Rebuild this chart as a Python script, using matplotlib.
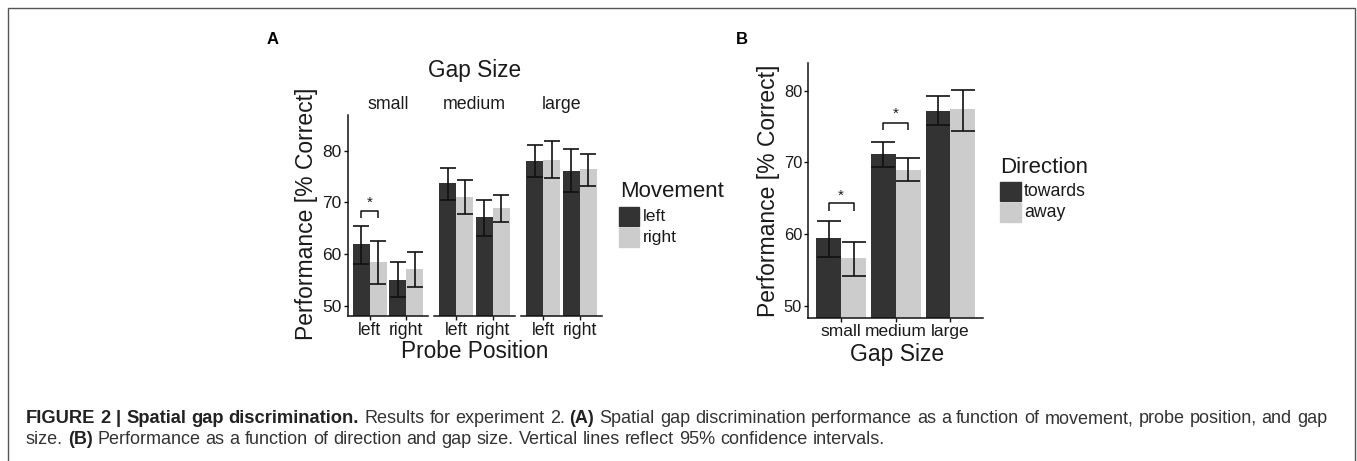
import matplotlib
matplotlib.use("Agg")
import matplotlib.pyplot as plt
from matplotlib.patches import Rectangle
import numpy as np

plt.rcParams['font.family'] = ['Liberation Sans', 'DejaVu Sans']

# ---------------- data ----------------
gap_sizes = ["small", "medium", "large"]
probe_positions = ["left", "right"]
movements = ["left", "right"]
# Panel A: [gap][probe] for each movement
a_mean_left = [[61.9, 55.0], [73.8, 67.2], [78.0, 76.1]]
a_lo_left = [[58.1, 51.7], [70.5, 63.6], [75.0, 72.1]]
a_hi_left = [[65.5, 58.4], [76.6, 70.5], [81.1, 80.3]]
a_mean_right = [[58.45, 57.1], [71.1, 69.0], [78.2, 76.5]]
a_lo_right = [[54.2, 53.6], [67.8, 66.3], [74.7, 73.2]]
a_hi_right = [[62.6, 60.4], [74.3, 71.5], [81.9, 79.4]]

# Panel B
directions = ["towards", "away"]
b_mean_towards = [59.5, 71.2, 77.2]
b_lo_towards = [56.8, 69.4, 75.2]
b_hi_towards = [61.9, 72.9, 79.2]
b_mean_away = [56.7, 69.0, 77.4]
b_lo_away = [54.2, 67.4, 74.4]
b_hi_away = [59.0, 70.6, 80.1]

y_ticks = [50, 60, 70, 80]

# caption: (text, style) with style 'head' (large bold), 'bold', 'normal'
caption_line1 = [("FIGURE 2 | Spatial gap discrimination.", "head"),
                 ("Results for experiment 2.", "normal"),
                 ("(A)", "bold"),
                 ("Spatial gap discrimination performance as a function of movement, probe position, and gap", "normal")]
caption_line2 = [("size.", "normal"),
                 ("(B)", "bold"),
                 ("Performance as a function of direction and gap size. Vertical lines reflect 95% confidence intervals.", "normal")]

DARK = "#333333"
LIGHT = "#cccccc"
TXT = "#1a1a1a"

W, H = 1357, 461
fig = plt.figure(figsize=(W / 100, H / 100), dpi=100)


def add_ax(x0, y0, x1, y1):
    return fig.add_axes([x0 / W, 1 - y1 / H, (x1 - x0) / W, (y1 - y0) / H])


def style_ax(ax, show_y):
    for s in ["top", "right"]:
        ax.spines[s].set_visible(False)
    ax.spines["bottom"].set_linewidth(1.1)
    ax.spines["bottom"].set_color("#111111")
    if show_y:
        ax.spines["left"].set_linewidth(1.1)
        ax.spines["left"].set_color("#111111")
        ax.tick_params(axis="y", length=3, width=1, colors="#111111",
                       labelsize=12.5, labelcolor=TXT, pad=1.5)
    else:
        ax.spines["left"].set_visible(False)
        ax.tick_params(axis="y", left=False, labelleft=False)
    ax.tick_params(axis="x", length=3, width=1, colors="#111111",
                   labelsize=12.7, labelcolor=TXT, pad=1.5)
    ax.patch.set_alpha(0)


def bracket(ax, x0, x1, y, drop, star_y, fs=11):
    ax.plot([x0, x0, x1, x1], [y - drop, y, y, y - drop], color="#111111",
            lw=1.1, solid_capstyle="butt", clip_on=False)
    ax.text((x0 + x1) / 2, star_y, "*", ha="center", va="center",
            fontsize=fs, color=TXT)


# ---------------- Panel A ----------------
facet_x = [(348, 428), (434, 515), (521, 602)]
ya0, ya1 = 115, 315.7
bw = 0.465
xpos = np.arange(1, len(probe_positions) + 1)
for gi, (x0, x1) in enumerate(facet_x):
    ax = add_ax(x0, ya0, x1, ya1)
    ml = np.array(a_mean_left[gi])
    mr = np.array(a_mean_right[gi])
    xl = xpos - bw / 2
    xr = xpos + bw / 2
    ax.bar(xl, ml, width=bw, color=DARK, zorder=2)
    ax.bar(xr, mr, width=bw, color=LIGHT, zorder=2)
    ax.errorbar(xl, ml, yerr=[ml - np.array(a_lo_left[gi]), np.array(a_hi_left[gi]) - ml],
                fmt="none", ecolor="#111111", elinewidth=1.2, capsize=5.5, capthick=1.2, zorder=3)
    ax.errorbar(xr, mr, yerr=[mr - np.array(a_lo_right[gi]), np.array(a_hi_right[gi]) - mr],
                fmt="none", ecolor="#111111", elinewidth=1.2, capsize=5.5, capthick=1.2, zorder=3)
    ax.set_xlim(0.4, 2.6)
    ax.set_ylim(48.1, 86.9)
    ax.set_xticks(xpos)
    ax.set_xticklabels(probe_positions)
    ax.set_yticks(y_ticks)
    style_ax(ax, gi == 0)
    ax.set_title(gap_sizes[gi], fontsize=12.8, color=TXT, pad=4.5)
    if gi == 0:
        bracket(ax, xl[0], xr[0], 68.3, 1.3, 70.0)

fig.text(475 / W, 1 - 70.7 / H, "Gap Size", ha="center", va="center", fontsize=16.3, color=TXT)
fig.text(475 / W, 1 - 351.7 / H, "Probe Position", ha="center", va="center", fontsize=16.3, color=TXT)
fig.text(307 / W, 1 - 214 / H, "Performance [% Correct]", ha="center", va="center",
         rotation=90, fontsize=16.5, color=TXT)

# legend A
fig.text(620 / W, 1 - 191.7 / H, "Movement", ha="left", va="center", fontsize=16, color=TXT)
for i, (lab, col) in enumerate(zip(movements, [DARK, LIGHT])):
    yt = 206.7 + i * 21
    fig.patches.append(Rectangle((619 / W, 1 - (yt + 19.5) / H), 20 / W, 19.5 / H,
                                 transform=fig.transFigure, color=col, figure=fig))
    fig.text(643 / W, 1 - (yt + 9.5) / H, lab, ha="left", va="center", fontsize=12.6, color=TXT)

# ---------------- Panel B ----------------
axB = add_ax(808.3, 63.3, 983.3, 317.7)
bx = np.arange(1, len(gap_sizes) + 1)
bwB = 0.455
mt = np.array(b_mean_towards)
ma = np.array(b_mean_away)
xt = bx - bwB / 2
xa = bx + bwB / 2
axB.bar(xt, mt, width=bwB, color=DARK, zorder=2)
axB.bar(xa, ma, width=bwB, color=LIGHT, zorder=2)
axB.errorbar(xt, mt, yerr=[mt - np.array(b_lo_towards), np.array(b_hi_towards) - mt],
             fmt="none", ecolor="#111111", elinewidth=1.2, capsize=8.6, capthick=1.2, zorder=3)
axB.errorbar(xa, ma, yerr=[ma - np.array(b_lo_away), np.array(b_hi_away) - ma],
             fmt="none", ecolor="#111111", elinewidth=1.2, capsize=8.6, capthick=1.2, zorder=3)
axB.set_xlim(0.4, 3.6)
axB.set_ylim(48.4, 83.8)
axB.set_xticks(bx)
axB.set_xticklabels(gap_sizes)
axB.set_yticks(y_ticks)
style_ax(axB, True)
axB.tick_params(axis="y", labelsize=11.8)
axB.tick_params(axis="x", labelsize=12.5)
bracket(axB, xt[0], xa[0], 64.3, 1.1, 65.4)
bracket(axB, xt[1], xa[1], 75.5, 1.0, 76.8)

fig.text(896.7 / W, 1 - 354 / H, "Gap Size", ha="center", va="center", fontsize=16.5, color=TXT)
fig.text(768.3 / W, 1 - 190.8 / H, "Performance [% Correct]", ha="center", va="center",
         rotation=90, fontsize=16.5, color=TXT)

fig.text(1000 / W, 1 - 167.3 / H, "Direction", ha="left", va="center", fontsize=16, color=TXT)
for i, (lab, col) in enumerate(zip(directions, [DARK, LIGHT])):
    yt = 181.7 + i * 21
    fig.patches.append(Rectangle((1000 / W, 1 - (yt + 19.5) / H), 20.7 / W, 19.5 / H,
                                 transform=fig.transFigure, color=col, figure=fig))
    fig.text(1024 / W, 1 - (yt + 9.5) / H, lab, ha="left", va="center", fontsize=12.7, color=TXT)

# panel letters
fig.text(273 / W, 1 - 39 / H, "A", ha="center", va="center", fontsize=12, fontweight="bold", color="black")
fig.text(742 / W, 1 - 39 / H, "B", ha="center", va="center", fontsize=12, fontweight="bold", color="black")

# frame
fig.patches.append(Rectangle((8 / W, -0.05), (1355 - 8) / W, 1 - 8 / H + 0.05,
                             transform=fig.transFigure, fill=False, edgecolor="#555555",
                             linewidth=1.0, figure=fig))

# ---------------- caption ----------------
renderer = fig.canvas.get_renderer()
HEAD_FS = 13.2
sizes = {"normal": 12.4}


def style_kw(style):
    if style == "head":
        return dict(fontsize=HEAD_FS, fontweight="bold", color="#222222")
    if style == "bold":
        return dict(fontsize=sizes["normal"], fontweight="bold", color="#222222")
    return dict(fontsize=sizes["normal"], fontweight="normal", color="#333333")


def words_of(segments):
    out = []
    for s, st in segments:
        for w in s.split(" "):
            if w:
                out.append((w, st))
    return out


def measure(word, st):
    t = fig.text(0, 0, word, **style_kw(st))
    w = t.get_window_extent(renderer=renderer).width
    t.remove()
    return w


def natural_width(segments):
    words = words_of(segments)
    sp = measure("a b", "normal") - measure("ab", "normal")
    return sum(measure(w, st) for w, st in words) + sp * (len(words) - 1), words


# fit normal text size so line 1 spans the reference width at natural spacing
target = 1327 - 26
head_w = measure(caption_line1[0][0], "head")
for _ in range(4):
    nat, _w = natural_width(caption_line1)
    sizes["normal"] *= (target - head_w) / (nat - head_w)


def draw_caption_line(segments, x0, base, x_end=None):
    words = words_of(segments)
    widths = [measure(w, st) for w, st in words]
    gap = measure("a b", "normal") - measure("ab", "normal")
    if x_end is not None and len(words) > 1:
        gap = (x_end - x0 - sum(widths)) / (len(words) - 1)
    x = x0
    for (w, st), wd in zip(words, widths):
        fig.text(x / W, 1 - base / H, w, ha="left", va="baseline", **style_kw(st))
        x += wd + gap


draw_caption_line(caption_line1, 26, 423.3, x_end=1327)
draw_caption_line(caption_line2, 26, 444.0)

fig.savefig("out.png", dpi=100)
